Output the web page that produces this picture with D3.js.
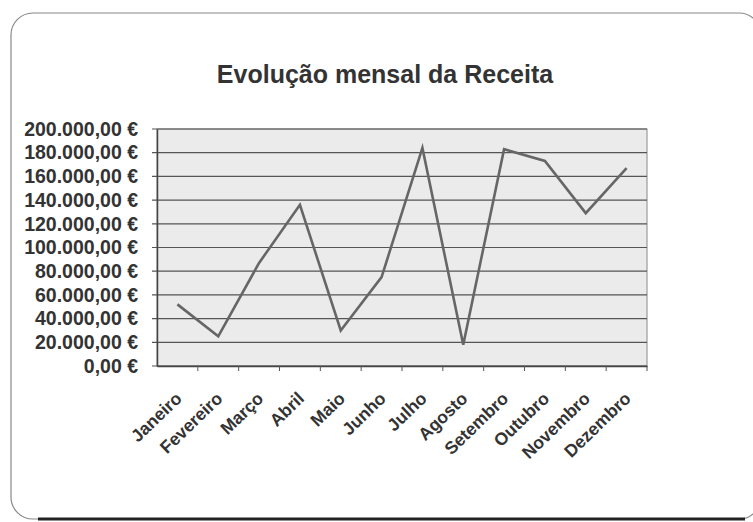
<!DOCTYPE html>
<html>
<head>
<meta charset="utf-8">
<script src="https://cdn.jsdelivr.net/npm/d3@7"></script>
<style>
body { margin: 0; background: #fff; }
text { font-family: "Liberation Sans", Arial, sans-serif; }
</style>
</head>
<body>
<div></div>
<script>
var months = ['Janeiro', 'Fevereiro', 'Março', 'Abril', 'Maio', 'Junho',
    'Julho', 'Agosto', 'Setembro', 'Outubro', 'Novembro', 'Dezembro'];
var receita = [52000, 25000, 87000, 136000, 30000, 75000,
    184000, 18000, 183000, 173000, 129000, 167000];
var yTicks = [0, 20000, 40000, 60000, 80000, 100000, 120000, 140000, 160000, 180000, 200000];

var width = 753;
var height = 522;
var margin = {left: 157, right: 106, top: 129, bottom: 156};

var svg = d3.select('div')
    .append('svg')
    .attr('width', width)
    .attr('height', height);

// cartao com cantos arredondados
svg.append('rect')
    .attr('x', 11).attr('y', 13)
    .attr('width', 750).attr('height', 506)
    .attr('rx', 22)
    .attr('fill', '#fff')
    .attr('stroke', '#888')
    .attr('stroke-width', 1.2);
svg.append('line')
    .attr('x1', 38).attr('x2', 745)
    .attr('y1', 519).attr('y2', 519)
    .attr('stroke', '#222')
    .attr('stroke-width', 3);

svg.append('text')
    .attr('x', 385)
    .attr('y', 83)
    .attr('text-anchor', 'middle')
    .attr('font-size', 25)
    .attr('font-weight', 'bold')
    .attr('fill', '#333')
    .text('Evolução mensal da Receita');

var g = svg.append('g')
    .attr('transform', 'translate(' + margin.left + ',' + margin.top + ')');

var w = width - margin.left - margin.right;
var h = height - margin.top - margin.bottom;

var xscale = d3.scaleBand()
    .domain(months)
    .range([0, w]);

var yscale = d3.scaleLinear()
    .domain([0, 200000])
    .range([h, 0]);

g.append('rect')
    .attr('width', w)
    .attr('height', h)
    .attr('fill', '#ebebeb')
    .attr('stroke', '#888');

// linhas de grelha
g.selectAll('.grid')
    .data(yTicks)
    .enter()
    .append('line')
    .attr('x1', -5)
    .attr('x2', w)
    .attr('y1', d => yscale(d))
    .attr('y2', d => yscale(d))
    .attr('stroke', '#555')
    .attr('stroke-width', 1.2);

var fmt = d3.formatLocale({decimal: ',', thousands: '.', grouping: [3], currency: ['', ' €']});
var money = fmt.format('$,.2f');

var yaxis = d3.axisLeft(yscale)
    .tickValues(yTicks)
    .tickSize(0)
    .tickPadding(19)
    .tickFormat(d => money(d));

g.append('g')
    .call(yaxis)
    .call(s => s.select('.domain').attr('stroke', '#444').attr('stroke-width', 1.5))
    .selectAll('text')
    .attr('font-size', 19.5)
    .attr('font-weight', 'bold')
    .attr('fill', '#333');

var xaxis = d3.axisBottom(xscale)
    .tickSize(0)
    .tickPadding(6);

var xg = g.append('g')
    .attr('transform', 'translate(0,' + h + ')')
    .call(xaxis);
xg.select('.domain').attr('stroke', '#444').attr('stroke-width', 1.5);
xg.selectAll('text')
    .attr('font-size', 17.5)
    .attr('font-weight', 'bold')
    .attr('fill', '#333')
    .attr('text-anchor', 'end')
    .attr('dy', '0.35em')
    .attr('transform', 'translate(-3,25) rotate(-44)');

// marcas entre categorias
g.selectAll('.tk')
    .data(months)
    .enter()
    .append('line')
    .attr('x1', d => xscale(d) + xscale.bandwidth())
    .attr('x2', d => xscale(d) + xscale.bandwidth())
    .attr('y1', h)
    .attr('y2', h + 5)
    .attr('stroke', '#555');

var line = d3.line()
    .x((d, i) => xscale(months[i]) + xscale.bandwidth() / 2)
    .y(d => yscale(d));

g.append('path')
    .datum(receita)
    .attr('d', line)
    .attr('fill', 'none')
    .attr('stroke', '#666')
    .attr('stroke-width', 2.6)
    .attr('stroke-linejoin', 'miter');
</script>
</body>
</html>
